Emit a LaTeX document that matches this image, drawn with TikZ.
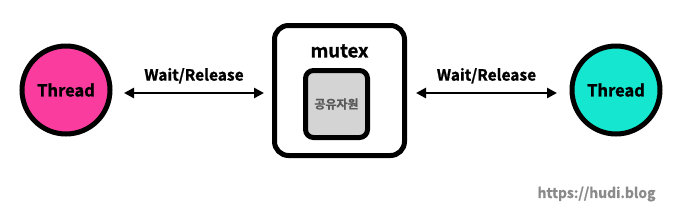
\documentclass[tikz,border=0pt]{standalone}
\usepackage{fontspec}
\setmainfont{Noto Sans CJK KR}[BoldFont={* Bold}, BoldFeatures={FakeBold=1.2}]
\usetikzlibrary{arrows.meta}
\definecolor{pinkc}{HTML}{FA3C9E}
\definecolor{tealc}{HTML}{14E6CF}
\definecolor{innerg}{HTML}{D4D4D4}
\definecolor{wmgray}{HTML}{8A8A8A}
\tikzset{
  thread/.style={circle, draw=black, line width=5pt, minimum size=88pt, inner sep=0pt, font=\bfseries\fontsize{16.5}{19}\selectfont},
  outerbox/.style={draw=black, line width=5pt, rounded corners=14pt, minimum width=130pt, minimum height=130pt, inner sep=0pt},
  innerbox/.style={draw=black, line width=5pt, rounded corners=8pt, fill=innerg, minimum width=62pt, minimum height=67pt, inner sep=0pt, font=\bfseries\fontsize{12}{14}\selectfont, text=black!65},
  conn/.style={line width=2.5pt, {Triangle[length=10pt,width=10pt]}-{Triangle[length=10pt,width=10pt]}},
  lbl/.style={font=\bfseries\fontsize{15.5}{18}\selectfont}
}
\begin{document}
\begin{tikzpicture}[x=1pt,y=-1pt]
\useasboundingbox (0,0) rectangle (680,223);
\node[thread, fill=pinkc] (t1) at (66,90) {Thread};
\node[thread, fill=tealc] (t2) at (616,90) {Thread};
\node[outerbox] (mx) at (339.5,90.5) {};
\node[font=\bfseries\fontsize{18.5}{21}\selectfont] (mxl) at (339.5,51) {mutex};
\node[innerbox] (res) at (336.5,104) {공유자원};
\coordinate (a1) at (124,93);
\coordinate (a2) at (264,93);
\coordinate (b1) at (416,93);
\coordinate (b2) at (557,93);
\draw[conn] (a1) -- (a2) node[midway, lbl, above=5pt] (l1) {Wait/Release};
\draw[conn] (b1) -- (b2) node[midway, lbl, above=5pt] (l2) {Wait/Release};
\node[font=\bfseries\fontsize{14}{16}\selectfont, text=wmgray, anchor=east] (wm) at (659,194) {https://hudi.blog};
\end{tikzpicture}
\end{document}
